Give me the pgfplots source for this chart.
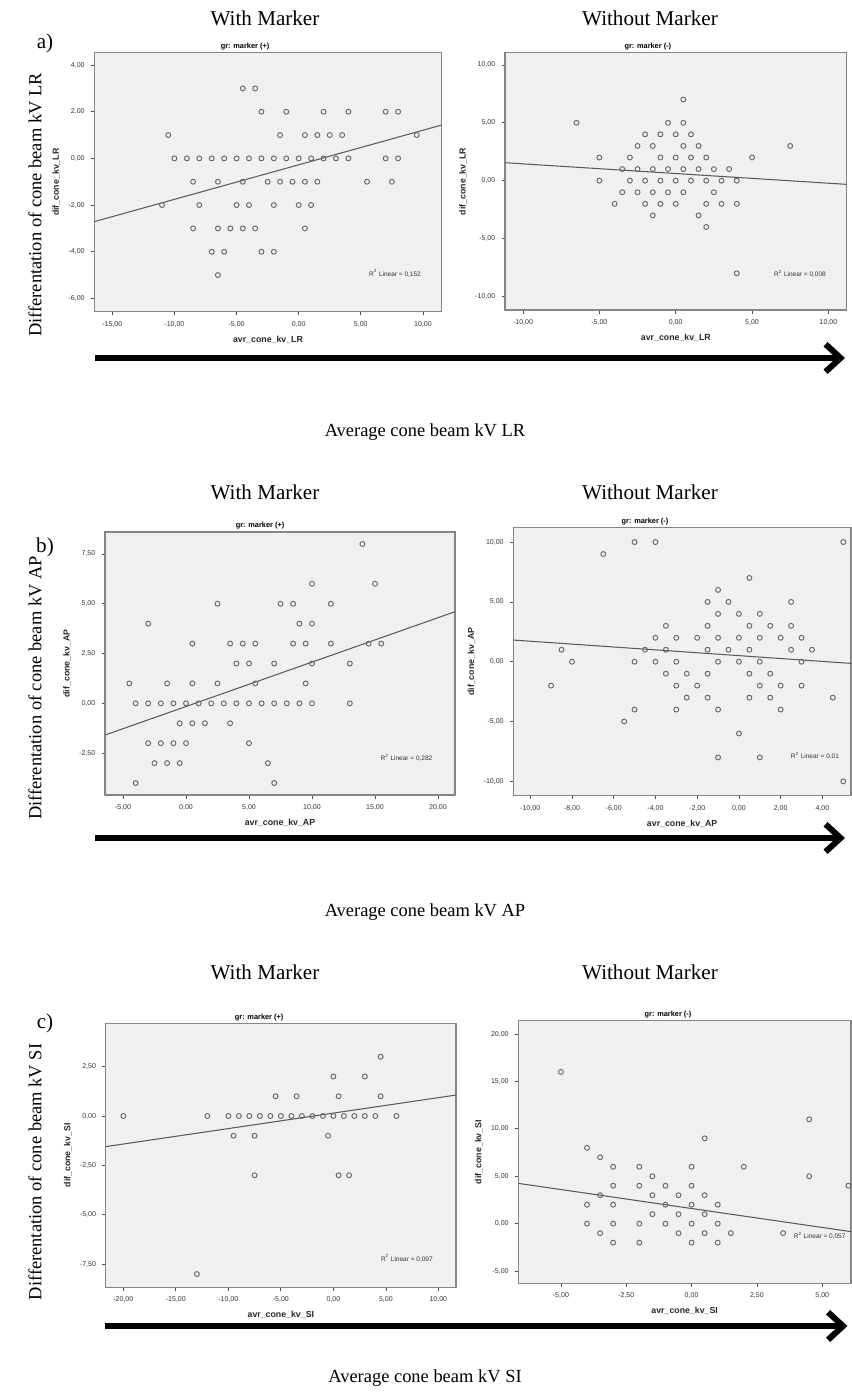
\documentclass[border=0pt]{standalone}
\usepackage{fontspec}
\setmainfont{Liberation Serif}
\newfontfamily\sans{Liberation Sans}
\usepackage{pgfplots}
\pgfplotsset{compat=1.18}
\usetikzlibrary{arrows.meta}

\definecolor{spssbg}{HTML}{F0F0F0}
\definecolor{spssframe}{HTML}{858585}
\definecolor{spssmark}{HTML}{6A6A6A}
\definecolor{spssline}{HTML}{5A5A5A}

\newcommand{\capt}{\fontsize{10.5}{12}\selectfont}
\newcommand{\head}{\fontsize{12}{14}\selectfont}

\pgfplotsset{
  spss/.style={
    scale only axis, anchor=south west,
    axis background/.style={fill=spssbg},
    axis line style={draw=spssframe, line width=0.6pt},
    tick style={draw=black!70, line width=0.4pt},
    tick align=outside, major tick length=0.07cm, tick pos=left,
    tick label style={font=\sans\fontsize{4}{4}\selectfont, text=black!80},
    scaled ticks=false,
    /pgf/number format/fixed, /pgf/number format/fixed zerofill,
    /pgf/number format/precision=2, /pgf/number format/use comma,
    /pgf/number format/assume math mode=true,
    label style={font=\sans\bfseries\fontsize{5}{5}\selectfont, text=black!85},
    xlabel style={yshift=2pt}, ylabel style={yshift=-2pt},
    title style={font=\sans\bfseries\fontsize{4.2}{4.2}\selectfont, anchor=south, yshift=-8pt},
  },
  pts/.style={only marks, mark=o, mark size=1.4pt, mark options={draw=spssmark, line width=0.55pt}},
  fit/.style={no marks, draw=spssline, line width=0.6pt},
}
\tikzset{rsq/.style={font=\sans\fontsize{3.7}{3.7}\selectfont, text=black!80}}

\begin{document}
\begin{tikzpicture}
\useasboundingbox (0,0) rectangle (17.02,-27.88);

% ---------- a) LR ----------
\node[font=\head] at (5.3,-0.36) {With Marker};
\node[font=\head] at (13.0,-0.36) {Without Marker};
\node[font=\head] at (0.9,-0.86) {a)};
\node[font=\capt, rotate=90] at (0.7,-4.1) {Differentation of cone beam kV LR};

\begin{axis}[spss, at={(1.886cm,-6.234cm)}, width=6.948cm, height=5.18cm,
  xmin=-16.45, xmax=11.51, ymin=-6.57, ymax=4.53,
  xtick={-15,-10,-5,0,5,10}, ytick={-6,-4,-2,0,2,4},
  title={gr: marker (+)}, title style={at={(0.434,1)}},
  xlabel={avr\_cone\_kv\_LR}, ylabel={dif\_cone\_kv\_LR}]
\addplot[pts] coordinates {
 (-4.5,3)(-3.5,3)
 (-3,2)(-1,2)(2,2)(4,2)(7,2)(8,2)
 (-10.5,1)(-1.5,1)(0.5,1)(1.5,1)(2.5,1)(3.5,1)(9.5,1)
 (-10,0)(-9,0)(-8,0)(-7,0)(-6,0)(-5,0)(-4,0)(-3,0)(-2,0)(-1,0)(0,0)(1,0)(2,0)(3,0)(4,0)(7,0)(8,0)
 (-8.5,-1)(-6.5,-1)(-4.5,-1)(-2.5,-1)(-1.5,-1)(-0.5,-1)(0.5,-1)(1.5,-1)(5.5,-1)(7.5,-1)
 (-11,-2)(-8,-2)(-5,-2)(-4,-2)(-2,-2)(0,-2)(1,-2)
 (-8.5,-3)(-6.5,-3)(-5.5,-3)(-4.5,-3)(-3.5,-3)(0.5,-3)
 (-7,-4)(-6,-4)(-3,-4)(-2,-4)
 (-6.5,-5)};
\addplot[fit] coordinates {(-16.45,-2.71)(11.51,1.43)};
\node[rsq] at (axis cs:7.75,-4.93) {R\textsuperscript{2} Linear = 0,152};
\end{axis}

\begin{axis}[spss, at={(10.1cm,-6.2cm)}, width=6.834cm, height=5.146cm,
  xmin=-11.18, xmax=11.2, ymin=-11.17, ymax=11.05,
  xtick={-10,-5,0,5,10}, ytick={-10,-5,0,5,10},
  title={gr: marker (-)}, title style={at={(0.418,1)}},
  xlabel={avr\_cone\_kv\_LR}, ylabel={dif\_cone\_kv\_LR}]
\addplot[pts] coordinates {
 (0.5,7)
 (-6.5,5)(-0.5,5)(0.5,5)
 (-2,4)(-1,4)(0,4)(1,4)
 (-2.5,3)(-1.5,3)(0.5,3)(1.5,3)(7.5,3)
 (-5,2)(-3,2)(-1,2)(0,2)(1,2)(2,2)(5,2)
 (-3.5,1)(-2.5,1)(-1.5,1)(-0.5,1)(0.5,1)(1.5,1)(2.5,1)(3.5,1)
 (-5,0)(-3,0)(-2,0)(-1,0)(0,0)(1,0)(2,0)(3,0)(4,0)
 (-3.5,-1)(-2.5,-1)(-1.5,-1)(-0.5,-1)(0.5,-1)(2.5,-1)
 (-4,-2)(-2,-2)(-1,-2)(0,-2)(2,-2)(3,-2)(4,-2)
 (-1.5,-3)(1.5,-3)
 (2,-4)
 (4,-8)};
\addplot[fit] coordinates {(-11.18,1.55)(11.2,-0.32)};
\node[rsq] at (axis cs:8.14,-8.06) {R\textsuperscript{2} Linear = 0,008};
\end{axis}

\draw[line width=0.12cm, -{Straight Barb[length=0.3cm,width=0.55cm]}] (1.9,-7.16) -- (16.9,-7.16);
\node[font=\capt] at (8.5,-8.64) {Average cone beam kV LR};

% ---------- b) AP ----------
\node[font=\head] at (5.3,-9.84) {With Marker};
\node[font=\head] at (13.0,-9.84) {Without Marker};
\node[font=\head] at (0.9,-10.94) {b)};
\node[font=\capt, rotate=90] at (0.7,-13.76) {Differentation of cone beam kV AP};

\begin{axis}[spss, at={(2.1cm,-15.9cm)}, width=7.0cm, height=5.26cm,
  xmin=-6.43, xmax=21.35, ymin=-4.6, ymax=8.6,
  xtick={-5,0,5,10,15,20}, ytick={-2.5,0,2.5,5,7.5},
  title={gr: marker (+)}, title style={at={(0.443,1)}},
  xlabel={avr\_cone\_kv\_AP}, ylabel={dif\_cone\_kv\_AP}]
\addplot[pts] coordinates {
 (14,8)
 (10,6)(15,6)
 (2.5,5)(7.5,5)(8.5,5)(11.5,5)
 (-3,4)(9,4)(10,4)
 (0.5,3)(3.5,3)(4.5,3)(5.5,3)(8.5,3)(9.5,3)(11.5,3)(14.5,3)(15.5,3)
 (4,2)(5,2)(7,2)(10,2)(13,2)
 (-4.5,1)(-1.5,1)(0.5,1)(2.5,1)(5.5,1)(9.5,1)
 (-4,0)(-3,0)(-2,0)(-1,0)(0,0)(1,0)(2,0)(3,0)(4,0)(5,0)(6,0)(7,0)(8,0)(9,0)(10,0)(13,0)
 (-0.5,-1)(0.5,-1)(1.5,-1)(3.5,-1)
 (-3,-2)(-2,-2)(-1,-2)(0,-2)(5,-2)
 (-2.5,-3)(-1.5,-3)(-0.5,-3)(6.5,-3)
 (-4,-4)(7,-4)};
\addplot[fit] coordinates {(-6.43,-1.59)(21.35,4.6)};
\node[rsq] at (axis cs:17.5,-2.73) {R\textsuperscript{2} Linear = 0,282};
\end{axis}

\begin{axis}[spss, at={(10.266cm,-15.914cm)}, width=6.754cm, height=5.36cm,
  xmin=-10.81, xmax=5.37, ymin=-11.2, ymax=11.2,
  xtick={-10,-8,-6,-4,-2,0,2,4}, ytick={-10,-5,0,5,10},
  title={gr: marker (-)}, title style={at={(0.39,1)}},
  xlabel={avr\_cone\_kv\_AP}, ylabel={dif\_cone\_kv\_AP}]
\addplot[pts] coordinates {
 (-5,10)(-4,10)(5,10)
 (-6.5,9)
 (0.5,7)
 (-1,6)
 (-1.5,5)(-0.5,5)(2.5,5)
 (-1,4)(0,4)(1,4)
 (-3.5,3)(-1.5,3)(0.5,3)(1.5,3)(2.5,3)
 (-4,2)(-3,2)(-2,2)(-1,2)(0,2)(1,2)(2,2)(3,2)
 (-8.5,1)(-4.5,1)(-3.5,1)(-1.5,1)(-0.5,1)(0.5,1)(2.5,1)(3.5,1)
 (-8,0)(-5,0)(-4,0)(-3,0)(-1,0)(0,0)(1,0)(3,0)
 (-3.5,-1)(-2.5,-1)(-1.5,-1)(0.5,-1)(1.5,-1)
 (-9,-2)(-3,-2)(-2,-2)(1,-2)(2,-2)(3,-2)
 (-2.5,-3)(-1.5,-3)(0.5,-3)(1.5,-3)(4.5,-3)
 (-5,-4)(-3,-4)(-1,-4)(2,-4)
 (-5.5,-5)
 (0,-6)
 (-1,-8)(1,-8)
 (5,-10)};
\addplot[fit] coordinates {(-10.81,1.81)(5.37,-0.14)};
\node[rsq] at (axis cs:3.64,-7.86) {R\textsuperscript{2} Linear = 0,01};
\end{axis}

\draw[line width=0.12cm, -{Straight Barb[length=0.3cm,width=0.55cm]}] (1.9,-16.76) -- (16.9,-16.76);
\node[font=\capt] at (8.5,-18.24) {Average cone beam kV AP};

% ---------- c) SI ----------
\node[font=\head] at (5.3,-19.44) {With Marker};
\node[font=\head] at (13.0,-19.44) {Without Marker};
\node[font=\head] at (0.9,-20.46) {c)};
\node[font=\capt, rotate=90] at (0.7,-23.44) {Differentation of cone beam kV SI};

\begin{axis}[spss, at={(2.114cm,-25.746cm)}, width=7.006cm, height=5.28cm,
  xmin=-21.68, xmax=11.68, ymin=-8.67, ymax=4.69,
  xtick={-20,-15,-10,-5,0,5,10}, ytick={-7.5,-5,-2.5,0,2.5},
  title={gr: marker (+)}, title style={at={(0.438,1)}},
  xlabel={avr\_cone\_kv\_SI}, ylabel={dif\_cone\_kv\_SI}]
\addplot[pts] coordinates {
 (4.5,3)
 (0,2)(3,2)
 (-5.5,1)(-3.5,1)(0.5,1)(4.5,1)
 (-20,0)(-12,0)(-10,0)(-9,0)(-8,0)(-7,0)(-6,0)(-5,0)(-4,0)(-3,0)(-2,0)(-1,0)(0,0)(1,0)(2,0)(3,0)(4,0)(6,0)
 (-9.5,-1)(-7.5,-1)(-0.5,-1)
 (-7.5,-3)(0.5,-3)(1.5,-3)
 (-13,-8)};
\addplot[fit] coordinates {(-21.68,-1.55)(11.68,1.06)};
\node[rsq] at (axis cs:7.0,-7.2) {R\textsuperscript{2} Linear = 0,097};
\end{axis}

\begin{axis}[spss, at={(10.366cm,-25.666cm)}, width=6.654cm, height=5.252cm,
  xmin=-6.63, xmax=6.1, ymin=-6.29, ymax=21.4,
  xtick={-5,-2.5,0,2.5,5}, ytick={-5,0,5,10,15,20},
  title={gr: marker (-)}, title style={at={(0.45,1)}},
  xlabel={avr\_cone\_kv\_SI}, ylabel={dif\_cone\_kv\_SI}]
\addplot[pts] coordinates {
 (-5,16)
 (4.5,11)
 (0.5,9)
 (-4,8)
 (-3.5,7)
 (-3,6)(-2,6)(0,6)(2,6)
 (-1.5,5)(4.5,5)
 (-3,4)(-2,4)(-1,4)(0,4)(6,4)
 (-3.5,3)(-1.5,3)(-0.5,3)(0.5,3)
 (-4,2)(-3,2)(-1,2)(0,2)(1,2)
 (-1.5,1)(-0.5,1)(0.5,1)
 (-4,0)(-3,0)(-2,0)(-1,0)(0,0)(1,0)
 (-3.5,-1)(-0.5,-1)(0.5,-1)(1.5,-1)(3.5,-1)
 (-3,-2)(-2,-2)(0,-2)(1,-2)};
\addplot[fit] coordinates {(-6.63,4.25)(6.1,-0.84)};
\node[rsq] at (axis cs:4.9,-1.3) {R\textsuperscript{2} Linear = 0,057};
\end{axis}

\draw[line width=0.12cm, -{Straight Barb[length=0.3cm,width=0.55cm]}] (2.1,-26.52) -- (16.95,-26.52);
\node[font=\capt] at (8.5,-27.56) {Average cone beam kV SI};
\end{tikzpicture}
\end{document}
